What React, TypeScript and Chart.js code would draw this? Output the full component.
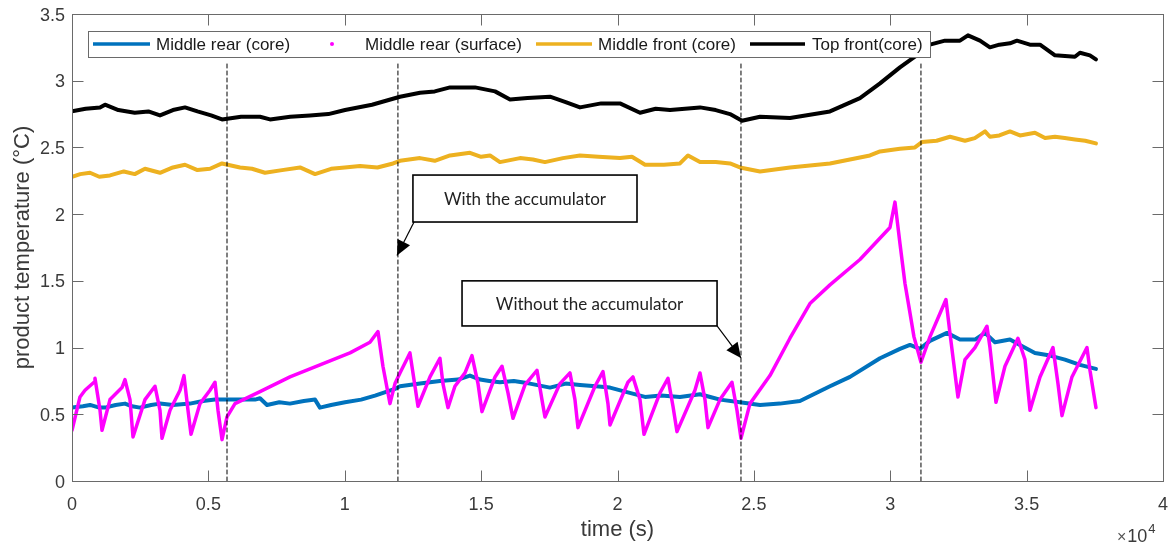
import React, { useEffect, useRef } from "react";
import { Chart, registerables } from "chart.js";

Chart.register(...registerables);

// ---------- data (time in s, temperature in °C) ----------
const seriesNames = ["Middle rear (core)", "Middle rear (surface)", "Middle front (core)", "Top front(core)"];

const rearCoreTime = [0, 400, 660, 1000, 1210, 1600, 1943, 2200, 2490, 2900, 3226, 3700, 4326, 4800, 5240, 6000, 6710, 6893, 7150, 7600, 7990, 8500, 8910, 9090, 9500, 10010, 10600, 11110, 11840, 12025, 12760, 13490, 14150, 14590, 14960, 15300, 15690, 16200, 16790, 17525, 18100, 18625, 19200, 19725, 20275, 21010, 21600, 22290, 23025, 23400, 23760, 24490, 25225, 25955, 26690, 27790, 28525, 29625, 30355, 30723, 31090, 31455, 32080, 32555, 33106, 33472, 33840, 34390, 34755, 35305, 35855, 36405, 36955, 37540];
const rearCoreTemp = [0.55, 0.56, 0.57, 0.55, 0.55, 0.57, 0.58, 0.56, 0.55, 0.57, 0.58, 0.57, 0.58, 0.60, 0.61, 0.61, 0.61, 0.62, 0.57, 0.59, 0.58, 0.60, 0.61, 0.55, 0.57, 0.59, 0.61, 0.64, 0.69, 0.71, 0.73, 0.75, 0.76, 0.79, 0.76, 0.75, 0.74, 0.75, 0.73, 0.70, 0.73, 0.72, 0.71, 0.70, 0.67, 0.63, 0.64, 0.63, 0.65, 0.63, 0.61, 0.59, 0.57, 0.58, 0.60, 0.71, 0.78, 0.92, 0.99, 1.02, 0.99, 1.05, 1.11, 1.06, 1.06, 1.11, 1.04, 1.06, 1.02, 0.96, 0.94, 0.91, 0.87, 0.84];

const rearSurfaceTime = [0, 293, 477, 807, 843, 1027, 1100, 1393, 1833, 1943, 2126, 2236, 2676, 3043, 3226, 3300, 3593, 3960, 4106, 4253, 4363, 4693, 5059, 5243, 5353, 5500, 5683, 5976, 6893, 7992, 9092, 10192, 10925, 11218, 11400, 11658, 11842, 12025, 12390, 12575, 12685, 13125, 13490, 13600, 13785, 14040, 14408, 14664, 14885, 15030, 15510, 15765, 15985, 16168, 16608, 17048, 17230, 17340, 17890, 18257, 18440, 18550, 19174, 19467, 19650, 19724, 20383, 20567, 20825, 20972, 21558, 21851, 22034, 22181, 22840, 23024, 23207, 23317, 23757, 24197, 24380, 24527, 24857, 25590, 26323, 27056, 27790, 28890, 29990, 30173, 30356, 30540, 30723, 30870, 31126, 31455, 32042, 32188, 32482, 32740, 33106, 33546, 33656, 33876, 34206, 34682, 34940, 35124, 35490, 35966, 36149, 36296, 36662, 37212, 37322, 37542];
const rearSurfaceTemp = [0.38, 0.63, 0.68, 0.74, 0.77, 0.53, 0.38, 0.61, 0.70, 0.76, 0.61, 0.33, 0.61, 0.71, 0.53, 0.32, 0.53, 0.68, 0.79, 0.53, 0.35, 0.58, 0.68, 0.74, 0.53, 0.31, 0.48, 0.58, 0.67, 0.78, 0.87, 0.96, 1.04, 1.12, 0.86, 0.58, 0.73, 0.81, 0.96, 0.71, 0.56, 0.78, 0.92, 0.73, 0.55, 0.71, 0.81, 0.94, 0.73, 0.52, 0.78, 0.86, 0.66, 0.47, 0.72, 0.83, 0.61, 0.48, 0.73, 0.81, 0.61, 0.40, 0.71, 0.82, 0.58, 0.42, 0.74, 0.78, 0.61, 0.35, 0.66, 0.77, 0.56, 0.37, 0.68, 0.81, 0.61, 0.40, 0.61, 0.74, 0.53, 0.32, 0.58, 0.79, 1.07, 1.33, 1.47, 1.66, 1.90, 2.09, 1.78, 1.48, 1.26, 1.08, 0.89, 1.08, 1.36, 1.11, 0.63, 0.91, 1.00, 1.16, 1.00, 0.59, 0.86, 1.07, 0.91, 0.53, 0.78, 1.00, 0.73, 0.49, 0.78, 1.00, 0.83, 0.55];

const frontCoreTime = [0, 300, 660, 1000, 1393, 1900, 2300, 2676, 3226, 3700, 4143, 4600, 5059, 5500, 6160, 6600, 7075, 7700, 8360, 8910, 9500, 10000, 10560, 11200, 11770, 12025, 12760, 13300, 13860, 14590, 15000, 15325, 15690, 16425, 16900, 17340, 18000, 18625, 19300, 20090, 20530, 21010, 21700, 22290, 22585, 23025, 23600, 24125, 24490, 25225, 26325, 27790, 29255, 29625, 30355, 30905, 31160, 31700, 32190, 32740, 33100, 33475, 33655, 34000, 34390, 34755, 35305, 35675, 36040, 36400, 36770, 37150, 37540];
const frontCoreTemp = [2.28, 2.30, 2.31, 2.28, 2.29, 2.32, 2.30, 2.34, 2.31, 2.35, 2.37, 2.33, 2.34, 2.38, 2.35, 2.34, 2.31, 2.33, 2.35, 2.30, 2.34, 2.35, 2.36, 2.35, 2.38, 2.40, 2.42, 2.40, 2.44, 2.46, 2.43, 2.44, 2.39, 2.42, 2.41, 2.39, 2.42, 2.44, 2.43, 2.42, 2.43, 2.37, 2.37, 2.38, 2.44, 2.39, 2.39, 2.38, 2.35, 2.32, 2.35, 2.38, 2.44, 2.47, 2.49, 2.50, 2.54, 2.55, 2.58, 2.55, 2.57, 2.62, 2.58, 2.59, 2.62, 2.59, 2.61, 2.57, 2.58, 2.57, 2.56, 2.55, 2.53];

const topFrontTime = [0, 500, 1027, 1210, 1700, 2300, 2800, 3226, 3700, 4143, 4600, 5100, 5500, 6200, 6893, 7260, 8000, 8726, 9400, 10010, 11000, 12025, 12760, 13300, 13860, 14775, 15510, 16060, 16700, 17525, 18100, 18625, 19400, 20090, 20825, 21400, 21925, 23025, 23600, 24125, 24565, 25225, 26325, 27790, 28890, 29625, 30355, 30905, 31455, 32005, 32555, 32850, 33290, 33655, 34000, 34390, 34645, 35120, 35490, 36040, 36770, 36955, 37320, 37540];
const topFrontTemp = [2.77, 2.79, 2.80, 2.82, 2.78, 2.76, 2.77, 2.74, 2.78, 2.80, 2.77, 2.74, 2.71, 2.73, 2.73, 2.71, 2.73, 2.74, 2.75, 2.78, 2.82, 2.88, 2.91, 2.92, 2.95, 2.95, 2.92, 2.86, 2.87, 2.88, 2.84, 2.80, 2.83, 2.83, 2.76, 2.79, 2.78, 2.80, 2.78, 2.75, 2.70, 2.73, 2.72, 2.77, 2.87, 2.98, 3.10, 3.18, 3.27, 3.30, 3.30, 3.34, 3.30, 3.25, 3.27, 3.28, 3.30, 3.27, 3.27, 3.19, 3.18, 3.21, 3.19, 3.16];

const markerTimes = [5683, 11950, 24527, 31126];
const markerTop = 3.13;

const xTickValues = [0, 5000, 10000, 15000, 20000, 25000, 30000, 35000, 40000];
const xTickLabels = ["0", "0.5", "1", "1.5", "2", "2.5", "3", "3.5", "4"];
const yTickValues = [0, 0.5, 1, 1.5, 2, 2.5, 3, 3.5];
const yTickLabels = ["0", "0.5", "1", "1.5", "2", "2.5", "3", "3.5"];

const xTitle = "time (s)";
const yTitle = "product temperature (°C)";
const noteWith = "With the accumulator";
const noteWithout = "Without the accumulator";

const colors = ["#0072BD", "#FF00FF", "#EDB120", "#000000"];

const toPts = (t: number[], v: number[]) => t.map((x, i) => ({ x, y: v[i] }));

const SANS = "'Liberation Sans', Arial, sans-serif";
const NOTE_FONT = "17px Lato, 'Open Sans', sans-serif";

function arrow(ctx: CanvasRenderingContext2D, x1: number, y1: number, x2: number, y2: number) {
  ctx.beginPath();
  ctx.moveTo(x1, y1);
  ctx.lineTo(x2, y2);
  ctx.stroke();
  const ang = Math.atan2(y2 - y1, x2 - x1);
  const L = 15, W = 7;
  ctx.beginPath();
  ctx.moveTo(x2, y2);
  ctx.lineTo(x2 - L * Math.cos(ang) + W * Math.sin(ang), y2 - L * Math.sin(ang) - W * Math.cos(ang));
  ctx.lineTo(x2 - L * Math.cos(ang) - W * Math.sin(ang), y2 - L * Math.sin(ang) + W * Math.cos(ang));
  ctx.closePath();
  ctx.fill();
}

function noteBox(ctx: CanvasRenderingContext2D, x: any, y: any, t0: number, t1: number, v0: number, v1: number, text: string) {
  const l = x.getPixelForValue(t0), r = x.getPixelForValue(t1);
  const tp = y.getPixelForValue(v0), bt = y.getPixelForValue(v1);
  ctx.fillStyle = "#fff";
  ctx.fillRect(l, tp, r - l, bt - tp);
  ctx.strokeStyle = "#000";
  ctx.lineWidth = 1.6;
  ctx.strokeRect(l, tp, r - l, bt - tp);
  ctx.fillStyle = "#222";
  ctx.font = NOTE_FONT;
  ctx.textAlign = "center";
  ctx.textBaseline = "middle";
  ctx.fillText(text, (l + r) / 2, (tp + bt) / 2 + 1);
}

const overlay = {
  id: "overlay",
  afterDraw(chart: any) {
    const { ctx, chartArea: a, scales } = chart;
    const x = scales.x, y = scales.y;
    ctx.save();

    // annotation boxes and arrows
    noteBox(ctx, x, y, 12500, 20715, 2.293, 1.941, noteWith);
    noteBox(ctx, x, y, 14300, 23650, 1.50, 1.162, noteWithout);
    ctx.strokeStyle = "#000";
    ctx.fillStyle = "#000";
    ctx.lineWidth = 1.2;
    arrow(ctx, x.getPixelForValue(12540), y.getPixelForValue(1.941), x.getPixelForValue(11916), y.getPixelForValue(1.69));
    arrow(ctx, x.getPixelForValue(23650), y.getPixelForValue(1.162), x.getPixelForValue(24527), y.getPixelForValue(0.922));

    // frame
    const L = Math.round(a.left) + 0.5, R = Math.round(a.right) + 0.5;
    const T = Math.round(a.top) + 0.5, B = Math.round(a.bottom) + 0.5;
    ctx.strokeStyle = "#6a6a6a";
    ctx.lineWidth = 1;
    ctx.strokeRect(L, T, R - L, B - T);
    const tk = 11;
    ctx.beginPath();
    xTickValues.forEach((v) => {
      const px = Math.round(x.getPixelForValue(v)) + 0.5;
      ctx.moveTo(px, B); ctx.lineTo(px, B - tk);
      ctx.moveTo(px, T); ctx.lineTo(px, T + tk);
    });
    yTickValues.forEach((v) => {
      const py = Math.round(y.getPixelForValue(v)) + 0.5;
      ctx.moveTo(L, py); ctx.lineTo(L + tk, py);
      ctx.moveTo(R, py); ctx.lineTo(R - tk, py);
    });
    ctx.stroke();

    // tick labels
    ctx.fillStyle = "#3a3a3a";
    ctx.font = `18px ${SANS}`;
    ctx.textBaseline = "alphabetic";
    ctx.textAlign = "center";
    xTickValues.forEach((v, i) => ctx.fillText(xTickLabels[i], x.getPixelForValue(v), a.bottom + 29));
    ctx.textAlign = "right";
    yTickValues.forEach((v, i) => ctx.fillText(yTickLabels[i], a.left - 7, y.getPixelForValue(v) + 6.5));

    // axis titles
    ctx.font = `22px ${SANS}`;
    ctx.textAlign = "center";
    ctx.fillText(xTitle, (a.left + a.right) / 2, a.bottom + 55);
    ctx.save();
    ctx.translate(29, (a.top + a.bottom) / 2);
    ctx.rotate(-Math.PI / 2);
    ctx.fillText(yTitle, 0, 0);
    ctx.restore();

    // exponent
    ctx.textAlign = "left";
    ctx.font = `16px ${SANS}`;
    const ex = a.right - 46;
    ctx.fillStyle = "#555";
    ctx.fillText("×", ex, a.bottom + 61);
    const wx = ctx.measureText("×").width;
    ctx.fillStyle = "#3a3a3a";
    ctx.font = `18px ${SANS}`;
    ctx.fillText("10", ex + wx + 1, a.bottom + 61);
    const w10 = ctx.measureText("10").width;
    ctx.font = `13px ${SANS}`;
    ctx.fillText("4", ex + wx + 1 + w10 + 1, a.bottom + 52);

    // legend
    const lx = 88.5, ly = 31.5, lw = 842, lh = 26;
    ctx.fillStyle = "#fff";
    ctx.fillRect(lx, ly, lw, lh);
    ctx.strokeStyle = "#6a6a6a";
    ctx.lineWidth = 1;
    ctx.strokeRect(lx, ly, lw, lh);
    const my = 44;
    const items = [
      { kind: "line", x0: 93, x1: 150, tx: 156 },
      { kind: "dot", x0: 332, x1: 332, tx: 365 },
      { kind: "line", x0: 536, x1: 592, tx: 598 },
      { kind: "line", x0: 750, x1: 805, tx: 812 },
    ];
    ctx.font = `17px ${SANS}`;
    ctx.textAlign = "left";
    items.forEach((it, i) => {
      if (it.kind === "line") {
        ctx.strokeStyle = colors[i];
        ctx.lineWidth = 3.5;
        ctx.beginPath();
        ctx.moveTo(it.x0, my);
        ctx.lineTo(it.x1, my);
        ctx.stroke();
      } else {
        ctx.fillStyle = colors[i];
        ctx.beginPath();
        ctx.arc(it.x0, my, 2, 0, Math.PI * 2);
        ctx.fill();
      }
      ctx.fillStyle = "#1a1a1a";
      ctx.fillText(seriesNames[i], it.tx, 50);
    });

    ctx.restore();
  },
};

export default function App() {
  const ref = useRef<HTMLCanvasElement>(null);
  useEffect(() => {
    const datasets: any[] = [
      { label: seriesNames[1], data: toPts(rearSurfaceTime, rearSurfaceTemp), borderColor: colors[1], borderWidth: 3.5, order: 1 },
      { label: seriesNames[0], data: toPts(rearCoreTime, rearCoreTemp), borderColor: colors[0], borderWidth: 4, order: 2 },
      { label: seriesNames[2], data: toPts(frontCoreTime, frontCoreTemp), borderColor: colors[2], borderWidth: 4, order: 3 },
      { label: seriesNames[3], data: toPts(topFrontTime, topFrontTemp), borderColor: colors[3], borderWidth: 4, order: 4 },
      ...markerTimes.map((t) => ({
        label: "marker",
        data: [{ x: t, y: 0 }, { x: t, y: markerTop }],
        borderColor: "#000",
        borderWidth: 1,
        borderDash: [4, 3],
        order: 0,
      })),
    ];
    const chart = new Chart(ref.current as HTMLCanvasElement, {
      type: "line",
      data: { datasets },
      options: {
        responsive: false,
        maintainAspectRatio: false,
        animation: false,
        layout: { padding: { top: 14, right: 12, left: 0, bottom: 0 } },
        plugins: { legend: { display: false }, tooltip: { enabled: false } },
        elements: { point: { radius: 0, hoverRadius: 0 }, line: { tension: 0, borderJoinStyle: "round", borderCapStyle: "round" } },
        scales: {
          x: {
            type: "linear", min: 0, max: 40000,
            ticks: { display: false, stepSize: 5000 },
            grid: { display: false }, border: { display: false },
            afterFit: (s: any) => { s.height = 67; },
          },
          y: {
            type: "linear", min: 0, max: 3.5,
            ticks: { display: false, stepSize: 0.5 },
            grid: { display: false }, border: { display: false },
            afterFit: (s: any) => { s.width = 72; },
          },
        },
      } as any,
      plugins: [overlay],
    });
    return () => chart.destroy();
  }, []);
  return (
    <div style={{ position: "absolute", left: 0, top: 0, width: 1175, height: 548, background: "#fff" }}>
      <canvas ref={ref} width={1175} height={548} style={{ display: "block" }} />
    </div>
  );
}
